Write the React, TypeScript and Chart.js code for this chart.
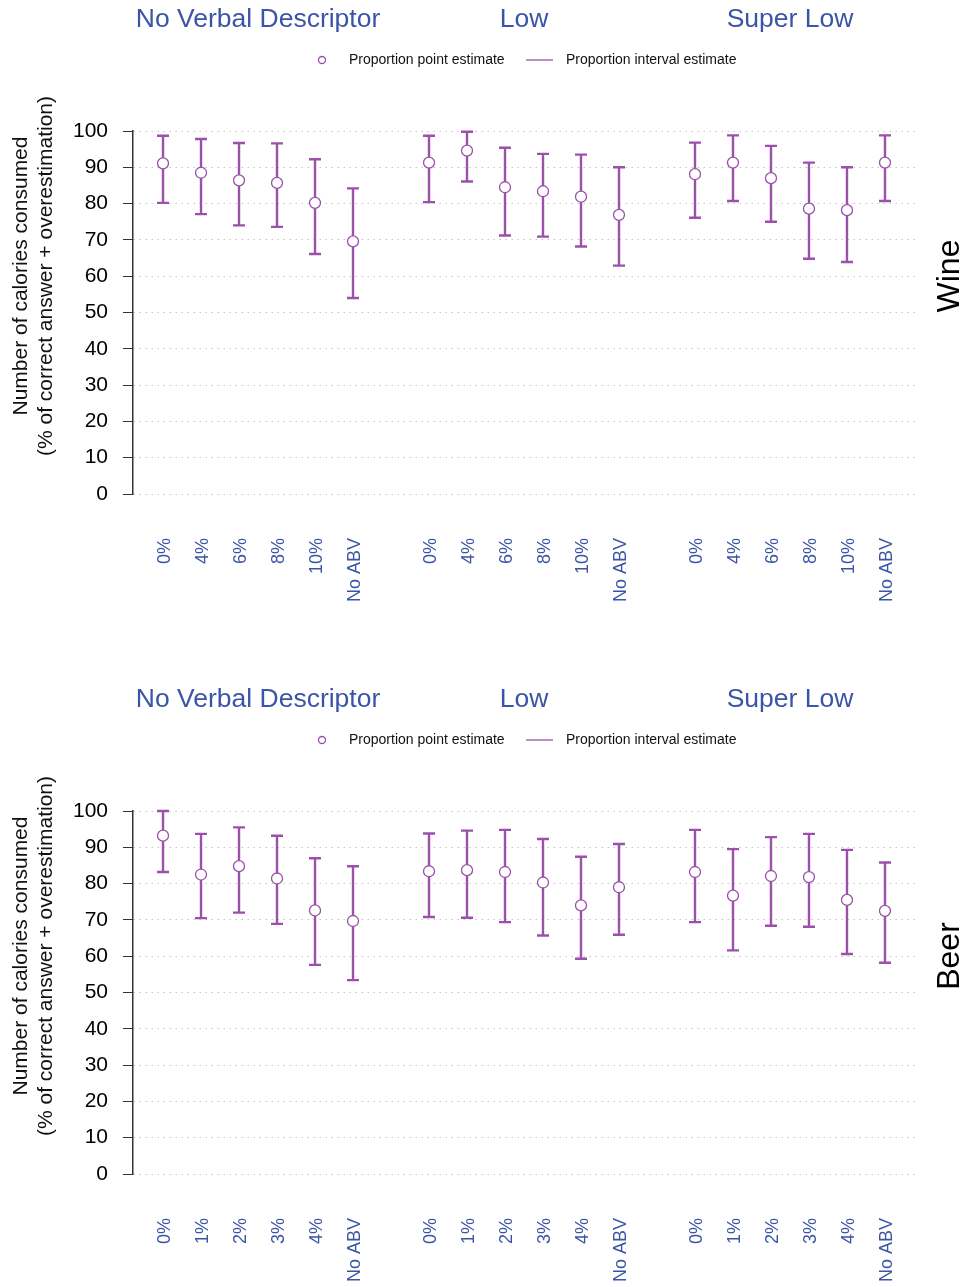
import React, { useEffect, useRef } from "react";
import { Chart, registerables } from "chart.js";

Chart.register(...registerables);

const groups = ["No Verbal Descriptor", "Low", "Super Low"];
const wineLevels = ["0%", "4%", "6%", "8%", "10%", "No ABV"];
const beerLevels = ["0%", "1%", "2%", "3%", "4%", "No ABV"];
const yTicks = [0, 10, 20, 30, 40, 50, 60, 70, 80, 90, 100];
const legendLabels = ["Proportion point estimate", "Proportion interval estimate"];
const yTitleLines = ["Number of calories consumed", "(% of correct answer + overestimation)"];

// Wine: NVD (6), Low (6), Super Low (6)
const wineEstimate = [91.1, 88.5, 86.4, 85.7, 80.2, 69.6, 91.3, 94.6, 84.5, 83.4, 81.9, 76.9, 88.1, 91.3, 87.0, 78.6, 78.2, 91.3];
const wineLower = [80.2, 77.1, 74.0, 73.6, 66.1, 54.0, 80.4, 86.1, 71.2, 70.9, 68.2, 62.9, 76.1, 80.7, 75.0, 64.8, 63.9, 80.7];
const wineUpper = [98.7, 97.8, 96.7, 96.6, 92.2, 84.2, 98.7, 99.8, 95.4, 93.7, 93.5, 90.0, 96.8, 98.8, 95.9, 91.3, 90.0, 98.8];

// Beer
const beerEstimate = [93.2, 82.5, 84.8, 81.4, 72.6, 69.7, 83.4, 83.7, 83.2, 80.3, 74.0, 79.0, 83.2, 76.7, 82.1, 81.8, 75.5, 72.5];
const beerLower = [83.2, 70.5, 72.0, 68.9, 57.6, 53.4, 70.8, 70.6, 69.4, 65.7, 59.3, 65.9, 69.4, 61.6, 68.4, 68.1, 60.6, 58.2];
const beerUpper = [100, 93.7, 95.5, 93.2, 87.0, 84.8, 93.8, 94.6, 94.8, 92.3, 87.4, 90.9, 94.8, 89.5, 92.8, 93.7, 89.3, 85.8];

const PURPLE = "#9b51a9";
const BLUE = "#3b55a6";
const FONT = "'Liberation Sans', Arial, Helvetica, sans-serif";

type PanelProps = {
  height: number;
  levels: string[];
  est: number[];
  lo: number[];
  hi: number[];
  side: string;
};

function Panel({ height, levels, est, lo, hi, side }: PanelProps) {
  const ref = useRef<HTMLCanvasElement | null>(null);

  useEffect(() => {
    if (!ref.current) return;
    const positions: number[] = [];
    const labelMap: Record<string, string> = {};
    groups.forEach((_, g) => {
      levels.forEach((lab, j) => {
        const p = g * 7 + j;
        positions.push(p);
        labelMap[String(p)] = lab;
      });
    });
    const points = est.map((v, i) => ({ x: positions[i], y: v }));

    const decor = {
      id: "decor",
      beforeDatasetsDraw(chart: any) {
        const ctx = chart.ctx;
        const xs = chart.scales.x;
        const ys = chart.scales.y;
        ctx.save();
        ctx.strokeStyle = PURPLE;
        ctx.lineWidth = 2.4;
        for (let i = 0; i < est.length; i++) {
          const x = xs.getPixelForValue(positions[i]);
          const y1 = ys.getPixelForValue(lo[i]);
          const y2 = ys.getPixelForValue(hi[i]);
          ctx.beginPath();
          ctx.moveTo(x, y1);
          ctx.lineTo(x, y2);
          ctx.moveTo(x - 6, y1);
          ctx.lineTo(x + 6, y1);
          ctx.moveTo(x - 6, y2);
          ctx.lineTo(x + 6, y2);
          ctx.stroke();
        }
        ctx.restore();
      },
      afterDraw(chart: any) {
        const ctx = chart.ctx;
        const xs = chart.scales.x;
        ctx.save();
        // group titles
        ctx.fillStyle = BLUE;
        ctx.font = `26.5px ${FONT}`;
        ctx.textAlign = "center";
        ctx.textBaseline = "middle";
        groups.forEach((g, gi) => {
          ctx.fillText(g, xs.getPixelForValue(gi * 7 + 2.5), 20);
        });
        // legend
        ctx.font = `14px ${FONT}`;
        ctx.fillStyle = "#111";
        ctx.textAlign = "left";
        ctx.strokeStyle = PURPLE;
        ctx.lineWidth = 1.3;
        ctx.beginPath();
        ctx.arc(322, 60, 3.5, 0, Math.PI * 2);
        ctx.stroke();
        ctx.fillText(legendLabels[0], 349, 60);
        ctx.beginPath();
        ctx.moveTo(526, 60);
        ctx.lineTo(553, 60);
        ctx.stroke();
        ctx.fillText(legendLabels[1], 566, 60);
        // y title
        ctx.font = `21px ${FONT}`;
        ctx.textAlign = "center";
        ctx.fillStyle = "#111";
        ctx.translate(21, 276);
        ctx.rotate(-Math.PI / 2);
        ctx.fillText(yTitleLines[0], 0, 0);
        ctx.fillText(yTitleLines[1], 0, 25);
        ctx.restore();
        // side label
        ctx.save();
        ctx.font = `32px ${FONT}`;
        ctx.fillStyle = "#000";
        ctx.textAlign = "center";
        ctx.textBaseline = "middle";
        ctx.translate(950, 276);
        ctx.rotate(-Math.PI / 2);
        ctx.fillText(side, 0, 0);
        ctx.restore();
      },
    };

    const chart = new Chart(ref.current, {
      type: "scatter",
      data: {
        datasets: [
          {
            data: points,
            pointStyle: "circle",
            pointRadius: 5.5,
            pointBorderWidth: 1.3,
            pointBorderColor: PURPLE,
            pointBackgroundColor: "#ffffff",
            showLine: false,
          },
        ],
      },
      options: {
        animation: false,
        responsive: false,
        devicePixelRatio: 1,
        layout: { padding: { top: 131, right: 49, left: 0, bottom: 0 } },
        plugins: { legend: { display: false }, tooltip: { enabled: false } },
        scales: {
          x: {
            type: "linear",
            min: -0.79,
            max: 19.79,
            grid: { display: false, drawTicks: false },
            border: { display: false },
            afterBuildTicks: (scale: any) => {
              scale.ticks = positions.map((v) => ({ value: v }));
            },
            afterFit: (scale: any) => {
              scale.height = height - 494;
            },
            ticks: {
              autoSkip: false,
              minRotation: 90,
              maxRotation: 90,
              padding: 44,
              labelOffset: 2,
              color: BLUE,
              font: { family: FONT, size: 18 },
              callback: (v: any) => labelMap[String(v)] ?? "",
            },
          },
          y: {
            min: 0,
            max: 100,
            afterBuildTicks: (scale: any) => {
              scale.ticks = yTicks.map((v) => ({ value: v }));
            },
            afterFit: (scale: any) => {
              scale.width = 133;
            },
            grid: {
              color: "#c4c4c4",
              lineWidth: 1,
              tickColor: "#333",
              tickBorderDash: [],
              tickLength: 10,
              drawTicks: true,
            },
            border: { display: true, color: "#333", width: 1.5, dash: [1.5, 4.5] },
            ticks: {
              padding: 15,
              color: "#000",
              font: { family: FONT, size: 21 },
            },
          },
        },
      },
      plugins: [decor],
    } as any);
    return () => chart.destroy();
  }, [height, levels, est, lo, hi, side]);

  return <canvas ref={ref} width={964} height={height} style={{ display: "block" }} />;
}

export default function App() {
  return (
    <div style={{ position: "absolute", top: 0, left: 0, width: 964, height: 1287, background: "#fff" }}>
      <Panel height={680} levels={wineLevels} est={wineEstimate} lo={wineLower} hi={wineUpper} side="Wine" />
      <Panel height={607} levels={beerLevels} est={beerEstimate} lo={beerLower} hi={beerUpper} side="Beer" />
    </div>
  );
}
